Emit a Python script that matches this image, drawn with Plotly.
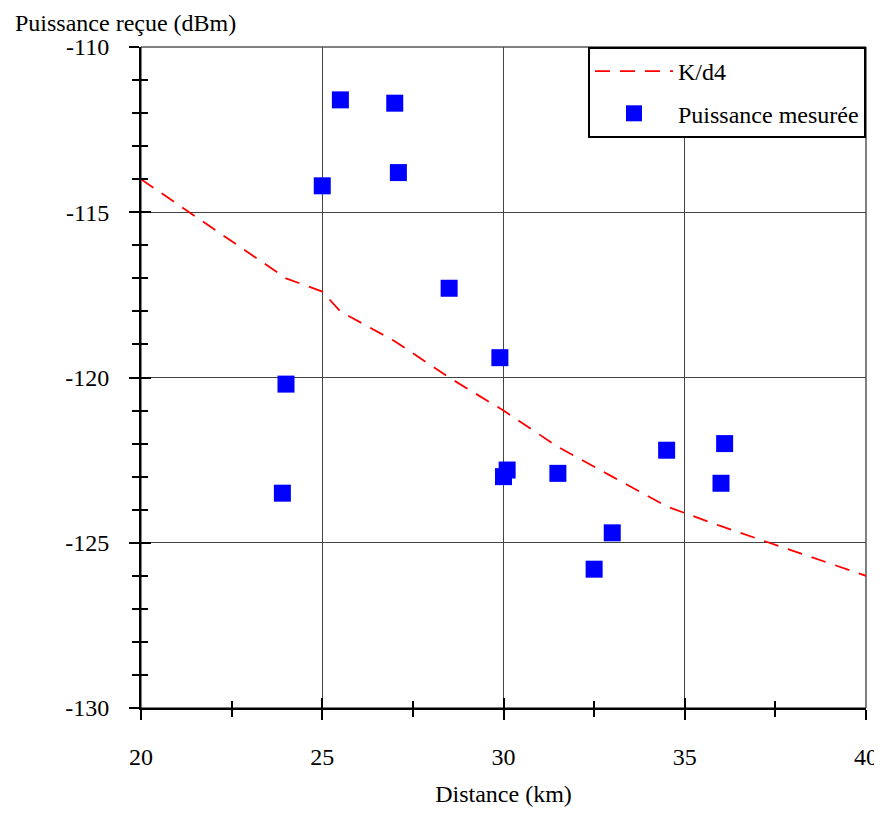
import plotly.graph_objects as go

# K/d4 model curve
model_dist = [20, 24, 25, 25.5, 27, 28.5, 30, 31.5, 33, 34.5, 36, 40]
model_power = [-114.0, -117.0, -117.4, -118.0, -118.9, -120.0, -121.0, -122.1, -123.0, -123.9, -124.5, -126.0]

# Measured power
meas_dist = [25.5, 27.0, 25.0, 27.1, 28.5, 29.9, 24.0, 23.9, 30.0, 30.1, 31.5, 33.0, 32.5, 34.5, 36.1, 36.0]
meas_power = [-111.6, -111.7, -114.2, -113.8, -117.3, -119.4, -120.2, -123.5, -123.0, -122.8, -122.9, -124.7, -125.8, -122.2, -122.0, -123.2]

x_ticks = [20, 25, 30, 35, 40]
x_labels = ["20", "25", "30", "35", "40"]
y_ticks = [-130, -125, -120, -115, -110]
y_labels = ["-130", "-125", "-120", "-115", "-110"]

x_range = [20, 40]
y_range = [-130, -110]

FONT = "Liberation Serif, Times New Roman, serif"
common_font = dict(family=FONT, size=24, color="black")

fig = go.Figure()
fig.add_trace(go.Scatter(
    x=model_dist, y=model_power, mode="lines", name="K/d4", legendgroup="a",
    line=dict(color="#ff0000", width=1.8, dash="15px,10px"),
))
fig.add_trace(go.Scatter(
    x=meas_dist, y=meas_power, mode="markers", name="Puissance mesurée", legendgroup="b",
    marker=dict(symbol="square", size=17, color="#0000ff", line=dict(width=0)),
))
# empty trace to drive inside ticks on overlay axes
fig.add_trace(go.Scatter(x=[None], y=[None], xaxis="x2", yaxis="y2", showlegend=False, hoverinfo="skip"))

fig.update_layout(
    width=874, height=806,
    margin=dict(l=133, r=16, t=39, b=106),
    paper_bgcolor="white", plot_bgcolor="white",
    font=common_font,
    showlegend=True,
    legend=dict(
        x=1, xanchor="right", y=1, yanchor="top",
        bgcolor="white", bordercolor="black", borderwidth=2,
        font=common_font,
        tracegroupgap=8, itemwidth=78,
    ),
    xaxis=dict(
        range=x_range, tickvals=x_ticks, ticktext=x_labels,
        showgrid=True, gridcolor="#444", gridwidth=1,
        showline=True, linecolor="black", linewidth=2,
        ticks="outside", ticklen=10, tickwidth=2, tickcolor="black",
        minor=dict(dtick=2.5, tick0=20, ticks="outside", ticklen=7, tickwidth=2, tickcolor="black", showgrid=False),
        ticklabelstandoff=16, automargin=False,
        zeroline=False,
        title=dict(text="Distance (km)", font=common_font, standoff=16),
    ),
    yaxis=dict(
        range=y_range, tickvals=y_ticks, ticktext=y_labels,
        showgrid=True, gridcolor="#444", gridwidth=1,
        showline=True, linecolor="black", linewidth=2,
        ticks="outside", ticklen=10, tickwidth=2, tickcolor="black",
        minor=dict(dtick=1, tick0=-130, ticks="outside", ticklen=7, tickwidth=2, tickcolor="black", showgrid=False),
        ticklabelstandoff=15, automargin=False,
        zeroline=False,
    ),
    xaxis2=dict(
        range=x_range, dtick=5, tick0=20, overlaying="x", side="bottom", anchor="y2",
        showgrid=False, showticklabels=False, zeroline=False, showline=False,
        ticks="inside", ticklen=10, tickwidth=2, tickcolor="black",
        minor=dict(dtick=2.5, tick0=20, ticks="inside", ticklen=7, tickwidth=2, tickcolor="black", showgrid=False),
    ),
    yaxis2=dict(
        range=y_range, dtick=5, tick0=-130, overlaying="y", side="left", anchor="x2",
        showgrid=False, showticklabels=False, zeroline=False, showline=False,
        ticks="inside", ticklen=10, tickwidth=2, tickcolor="black",
        minor=dict(dtick=1, tick0=-130, ticks="inside", ticklen=7, tickwidth=2, tickcolor="black", showgrid=False),
    ),
    shapes=[dict(type="rect", xref="paper", yref="paper", x0=0, x1=1, y0=0, y1=1,
                 line=dict(color="black", width=1), layer="below")],
    annotations=[dict(text="Puissance reçue (dBm)", xref="paper", yref="paper",
                      x=-128/725, y=1 + 39/661, xanchor="left", yanchor="top",
                      showarrow=False, font=common_font)],
)

fig.write_html("out.html")
